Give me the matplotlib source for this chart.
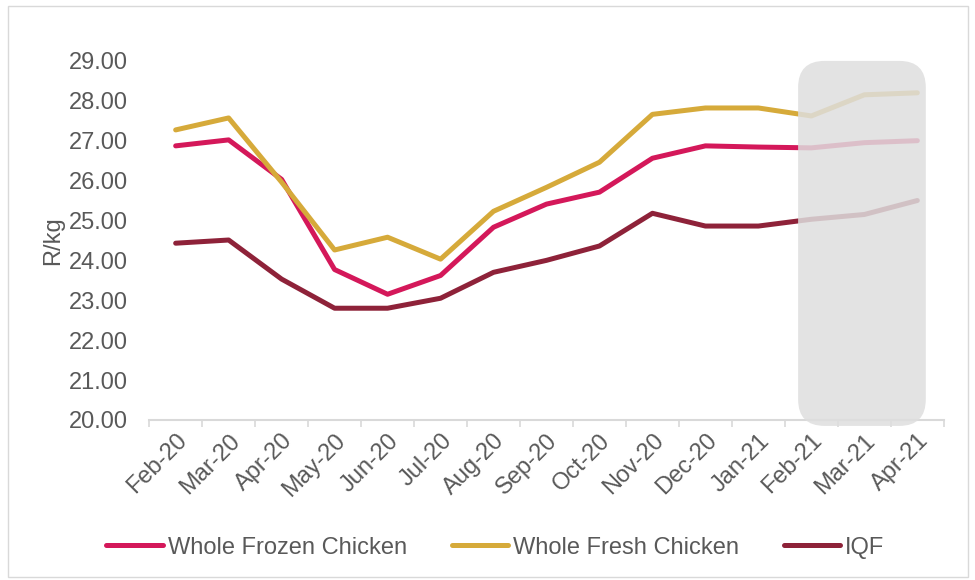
import matplotlib
matplotlib.use("Agg")
import matplotlib.pyplot as plt
from matplotlib.patches import FancyBboxPatch, Rectangle
import numpy as np

plt.rcParams['font.family'] = ['Liberation Sans', 'DejaVu Sans']

# Maandelikse pryse (R/kg)
months = ["Feb-20", "Mar-20", "Apr-20", "May-20", "Jun-20", "Jul-20", "Aug-20",
          "Sep-20", "Oct-20", "Nov-20", "Dec-20", "Jan-21", "Feb-21", "Mar-21", "Apr-21"]
frozen = [26.87, 27.02, 26.03, 23.77, 23.15, 23.62, 24.83, 25.41, 25.71, 26.56,
          26.87, 26.84, 26.82, 26.95, 27.00]
fresh = [27.27, 27.57, 25.96, 24.26, 24.58, 24.03, 25.23, 25.83, 26.46, 27.66,
         27.82, 27.82, 27.62, 28.15, 28.20]
iqf = [24.43, 24.51, 23.53, 22.80, 22.80, 23.05, 23.70, 24.00, 24.36, 25.18,
       24.86, 24.86, 25.03, 25.15, 25.50]
forecast_start = "Feb-21"

c_frozen = "#d4185a"
c_fresh = "#d6aa3a"
c_iqf = "#8e2239"
txt = "#595959"
fs = 17

fig = plt.figure(figsize=(9.75, 5.8), dpi=100)
ax = fig.add_axes([0.153, 0.276, 0.815, 0.619])

x = np.arange(len(months))
lw = 3.6
ax.plot(x, frozen, color=c_frozen, lw=lw, solid_capstyle='round', label="Whole Frozen Chicken")
ax.plot(x, fresh, color=c_fresh, lw=lw, solid_capstyle='round', label="Whole Fresh Chicken")
ax.plot(x, iqf, color=c_iqf, lw=lw, solid_capstyle='round', label="IQF")

ax.set_xlim(-0.5, len(months) - 0.5)
ax.set_ylim(20, 29)
ax.set_yticks(np.arange(20, 29.5, 1))
ax.set_yticklabels([f"{v:.2f}" for v in np.arange(20, 29.5, 1)])
ax.set_xticks(np.arange(-0.5, len(months), 1), minor=False)
ax.set_xticklabels([])
ax.set_xticks(x, minor=True)
ax.set_xticklabels(months, minor=True, rotation=45, ha='right', rotation_mode='anchor')
ax.tick_params(axis='x', which='major', length=5, color="#d9d9d9", width=1.2)
ax.tick_params(axis='x', which='minor', length=0, pad=7, labelsize=fs, labelcolor=txt)
ax.tick_params(axis='y', length=0, labelsize=fs, labelcolor=txt, pad=15)
for s in ["top", "right", "left"]:
    ax.spines[s].set_visible(False)
ax.spines["bottom"].set_color("#d9d9d9")
ax.spines["bottom"].set_linewidth(1.5)
ax.set_ylabel("R/kg", fontsize=fs, color=txt, labelpad=4)

# grys blok oor die vooruitskatting
i0 = months.index(forecast_start)
x0, x1 = i0 - 0.25, len(months) - 1 + 0.16
y0, y1 = 19.85, 29.0
ax_w = 0.815 * 975
ax_h = 0.619 * 580
px_x = ax_w / len(months)
px_y = ax_h / 9.0
r = 0.5
box = FancyBboxPatch((x0, y0), x1 - x0, y1 - y0,
                     boxstyle=f"round,pad=0,rounding_size={r}",
                     mutation_aspect=px_x / px_y,
                     facecolor="#dedede", edgecolor="none", alpha=0.85,
                     zorder=5, clip_on=False)
ax.add_patch(box)

leg = fig.legend(loc='lower center', bbox_to_anchor=(0.508, 0.0), ncol=3, frameon=False,
                 fontsize=fs, handlelength=2.4, handletextpad=0.2, columnspacing=1.9)
for t in leg.get_texts():
    t.set_color(txt)

fig.patches.append(Rectangle((0.008, 0.005), 0.985, 0.985, transform=fig.transFigure,
                             fill=False, edgecolor="#d9d9d9", lw=1))

fig.savefig("out.png", dpi=100)
